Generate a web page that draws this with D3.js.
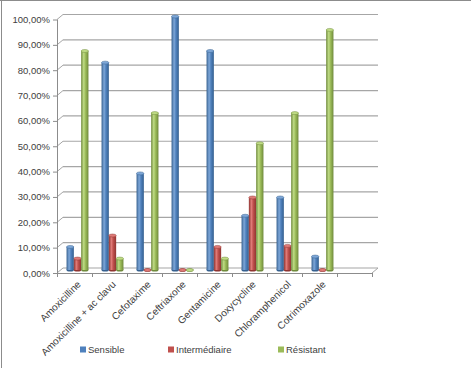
<!DOCTYPE html>
<html>
<head>
<meta charset="utf-8">
<script src="https://cdn.jsdelivr.net/npm/d3@7/dist/d3.min.js"></script>
<style>
  body { margin: 0; background: #fff; }
  svg { display: block; }
</style>
</head>
<body>
<div id="chart"></div>
<script>
var width = 471,
    height = 368;

// data
var antibiotiques = ["Amoxicilline", "Amoxicilline + ac clavu", "Cefotaxime", "Ceftriaxone",
    "Gentamicine", "Doxycycline", "Chloramphenicol", "Cotrimoxazole", ""];
var series = ["Sensible", "Intermédiaire", "Résistant"];
var sensible      = [0.091, 0.818, 0.381, 1.000, 0.864, 0.214, 0.286, 0.053];
var intermediaire = [0.045, 0.136, 0.000, 0.000, 0.091, 0.286, 0.095, 0.000];
var resistant     = [0.864, 0.045, 0.619, 0.000, 0.045, 0.500, 0.619, 0.947];
var yTicks = [0, 0.1, 0.2, 0.3, 0.4, 0.5, 0.6, 0.7, 0.8, 0.9, 1.0];

var couleurs = ["#4f81bd", "#c0504d", "#9bbb59"];
var clairs = ["#7ea7d8", "#e07b78", "#c0dc86"];
var sombres = ["#35608f", "#8f3431", "#6f8a3b"];

var svg = d3.select("#chart").append("svg")
    .attr("width", width)
    .attr("height", height)
    .style("font-family", "'Liberation Sans', Arial, sans-serif");

// chart border (top and left only visible)
svg.append("line").attr("x1", 0).attr("x2", width).attr("y1", 0.5).attr("y2", 0.5)
    .attr("stroke", "#8c8c8c");
svg.append("line").attr("x1", 1.5).attr("x2", 1.5).attr("y1", 0).attr("y2", height)
    .attr("stroke", "#8c8c8c");

// front plane scales, back plane is shifted by depth
var x = d3.scaleBand().domain(d3.range(antibiotiques.length)).range([57, 372]);
var y = d3.scaleLinear().domain([0, 1]).range([273, 19.5]);
var dx = 6, dy = -5;

var defs = svg.append("defs");
couleurs.forEach(function(c, i) {
    var g = defs.append("linearGradient").attr("id", "cyl" + i)
        .attr("x1", 0).attr("x2", 1).attr("y1", 0).attr("y2", 0);
    g.append("stop").attr("offset", "0%").attr("stop-color", sombres[i]);
    g.append("stop").attr("offset", "35%").attr("stop-color", clairs[i]);
    g.append("stop").attr("offset", "60%").attr("stop-color", c);
    g.append("stop").attr("offset", "100%").attr("stop-color", sombres[i]);
});

// back wall gridlines
svg.append("g").selectAll("line.grid")
    .data(yTicks)
    .enter().append("line")
    .attr("class", "grid")
    .attr("x1", 57 + dx).attr("x2", 372 + dx)
    .attr("y1", function(d) { return y(d) + dy; })
    .attr("y2", function(d) { return y(d) + dy; })
    .attr("stroke", "#a6a6a6")
    .attr("stroke-width", 1.2);

// left wall slants
svg.append("g").selectAll("line")
    .data(yTicks)
    .enter().append("line")
    .attr("x1", 57).attr("x2", 57 + dx)
    .attr("y1", function(d) { return y(d); })
    .attr("y2", function(d) { return y(d) + dy; })
    .attr("stroke", "#a6a6a6");

// left axis
svg.append("line").attr("x1", 57.5).attr("x2", 57.5)
    .attr("y1", y(1)).attr("y2", y(0))
    .attr("stroke", "#8c8c8c");
svg.append("g").selectAll("line")
    .data(yTicks)
    .enter().append("line")
    .attr("x1", 53).attr("x2", 57)
    .attr("y1", function(d) { return y(d) + 0.5; })
    .attr("y2", function(d) { return y(d) + 0.5; })
    .attr("stroke", "#8c8c8c");

var fmt = function(v) { return d3.format(".2f")(v * 100).replace(".", ",") + "%"; };
svg.append("g").selectAll("text")
    .data(yTicks)
    .enter().append("text")
    .attr("x", 50)
    .attr("y", function(d) { return y(d) + 3.5; })
    .attr("text-anchor", "end")
    .style("font-size", "9.5px")
    .style("fill", "#404040")
    .text(fmt);

// floor
svg.append("line").attr("x1", 57).attr("x2", 372)
    .attr("y1", y(0) + 0.5).attr("y2", y(0) + 0.5)
    .attr("stroke", "#8c8c8c");
svg.append("line").attr("x1", 372).attr("x2", 372 + dx)
    .attr("y1", y(0)).attr("y2", y(0) + dy)
    .attr("stroke", "#a6a6a6");
svg.append("g").selectAll("line")
    .data(d3.range(antibiotiques.length + 1))
    .enter().append("line")
    .attr("x1", function(i) { return 57 + i * x.step() + 0.5; })
    .attr("x2", function(i) { return 57 + i * x.step() + 0.5; })
    .attr("y1", y(0)).attr("y2", y(0) + 4)
    .attr("stroke", "#8c8c8c");

// bars as small cylinders
var valeurs = [sensible, intermediaire, resistant];
var barW = 7.3;
var bx = d3.scaleBand().domain(d3.range(3)).range([0, barW * 3]);
var mx = 4, my = -3;

var donnees = [];
sensible.forEach(function(v, i) {
    valeurs.forEach(function(s, j) {
        donnees.push({ cat: i, serie: j, valeur: s[i] });
    });
});

var barres = svg.append("g").selectAll("g.barre")
    .data(donnees)
    .enter().append("g")
    .attr("class", "barre")
    .attr("transform", function(d) {
        var cx = x(d.cat) + x.bandwidth() / 2 + mx - 1 - barW * 1.5 + bx(d.serie);
        return "translate(" + cx + ",0)";
    });

barres.append("ellipse")
    .attr("cx", barW / 2)
    .attr("cy", y(0) + my)
    .attr("rx", barW / 2)
    .attr("ry", 1.5)
    .attr("fill", function(d) { return sombres[d.serie]; });

barres.append("rect")
    .attr("x", 0)
    .attr("width", barW)
    .attr("y", function(d) { return y(d.valeur) + my; })
    .attr("height", function(d) { return y(0) - y(d.valeur); })
    .attr("fill", function(d) { return "url(#cyl" + d.serie + ")"; });

barres.append("ellipse")
    .attr("cx", barW / 2)
    .attr("cy", function(d) { return y(d.valeur) + my; })
    .attr("rx", barW / 2)
    .attr("ry", 1.5)
    .attr("fill", function(d) { return clairs[d.serie]; })
    .attr("stroke", function(d) { return sombres[d.serie]; })
    .attr("stroke-width", 0.5);

// category labels
svg.append("g").selectAll("text")
    .data(antibiotiques)
    .enter().append("text")
    .attr("transform", function(d, i) {
        return "translate(" + (x(i) + x.bandwidth() / 2 + 7) + "," + 285 + ") rotate(-45)";
    })
    .attr("text-anchor", "end")
    .style("font-size", "10px")
    .style("fill", "#404040")
    .text(function(d) { return d; });

// legend
var legendeX = [80, 168, 278];
var legende = svg.append("g").selectAll("g")
    .data(series)
    .enter().append("g")
    .attr("transform", function(d, i) { return "translate(" + legendeX[i] + ",346.5)"; });
legende.append("rect")
    .attr("width", 6).attr("height", 6)
    .attr("fill", function(d, i) { return couleurs[i]; });
legende.append("text")
    .attr("x", 8)
    .attr("y", 6.5)
    .style("font-size", "9.5px")
    .style("fill", "#404040")
    .text(function(d) { return d; });
</script>
</body>
</html>
